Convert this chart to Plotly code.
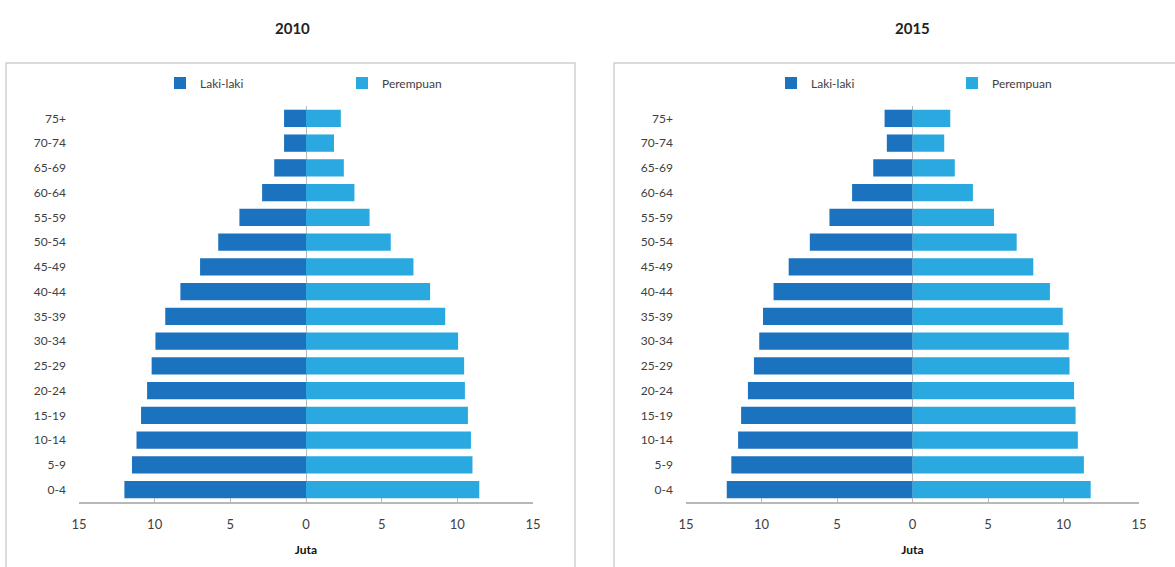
import plotly.graph_objects as go
import numpy as np

# ---- data (millions, "Juta") ----
age_groups = ["0-4", "5-9", "10-14", "15-19", "20-24", "25-29", "30-34", "35-39",
              "40-44", "45-49", "50-54", "55-59", "60-64", "65-69", "70-74", "75+"]

male_2010 = [12.0, 11.5, 11.2, 10.9, 10.5, 10.2, 9.95, 9.3, 8.3, 7.0, 5.8, 4.4, 2.9, 2.1, 1.45, 1.45]
female_2010 = [11.45, 11.0, 10.9, 10.7, 10.5, 10.45, 10.05, 9.2, 8.2, 7.1, 5.6, 4.2, 3.2, 2.5, 1.85, 2.3]

male_2015 = [12.3, 12.0, 11.55, 11.35, 10.9, 10.5, 10.15, 9.9, 9.2, 8.2, 6.8, 5.5, 4.0, 2.6, 1.7, 1.85]
female_2015 = [11.8, 11.35, 10.95, 10.8, 10.7, 10.4, 10.35, 9.95, 9.1, 8.0, 6.9, 5.4, 4.0, 2.8, 2.1, 2.5]

years = ["2010", "2015"]
series_names = ["Laki-laki", "Perempuan"]
tick_values = [-15, -10, -5, 0, 5, 10, 15]
tick_labels = ["15", "10", "5", "0", "5", "10", "15"]
x_title = "Juta"

MALE_COLOR = "#1b72be"
FEMALE_COLOR = "#2aa9e0"
FONT = "Lato"
TXT = "#404040"

W, H = 1175, 567

def px_x(p):
    return p / W

def px_y(p):
    return 1 - p / H

fig = go.Figure()

panels = [
    dict(male=male_2010, female=female_2010, xa="x", ya="y", legends=("legend", "legend2")),
    dict(male=male_2015, female=female_2015, xa="x2", ya="y2", legends=("legend3", "legend4")),
]

for p in panels:
    fig.add_trace(go.Bar(
        y=age_groups, x=-np.array(p["male"]), orientation="h",
        name=series_names[0], marker=dict(color=MALE_COLOR, line=dict(width=0)),
        xaxis=p["xa"], yaxis=p["ya"], legend=p["legends"][0],
        customdata=p["male"], hovertemplate="%{y}: %{customdata}<extra></extra>",
    ))
    fig.add_trace(go.Bar(
        y=age_groups, x=p["female"], orientation="h",
        name=series_names[1], marker=dict(color=FEMALE_COLOR, line=dict(width=0)),
        xaxis=p["xa"], yaxis=p["ya"], legend=p["legends"][1],
        hovertemplate="%{y}: %{x}<extra></extra>",
    ))

x_domains = [[px_x(79), px_x(533)], [px_x(686), px_x(1139)]]
y_domain = [px_y(502), px_y(106)]

xaxis_common = dict(
    range=[-15, 15], tickmode="array", tickvals=tick_values, ticktext=tick_labels,
    showgrid=False, zeroline=True, zerolinecolor="#b8b8b8", zerolinewidth=1,
    showline=True, linecolor="#b8b8b8", linewidth=1.5,
    ticks="inside", ticklen=4, tickcolor="#b8b8b8",
    tickfont=dict(family=FONT, size=13, color=TXT), ticklabelstandoff=10,
    title=dict(text=x_title, font=dict(family=FONT, size=12, color="#111111", weight="bold"), standoff=14),
    fixedrange=True, automargin=False,
)
yaxis_common = dict(
    type="category", categoryorder="array", categoryarray=age_groups,
    showgrid=False, zeroline=False, showline=False, ticks="",
    tickfont=dict(family=FONT, size=12, color=TXT),
    ticklabelstandoff=12, fixedrange=True, automargin=False,
)

def legend_at(xpix):
    return dict(orientation="h", x=px_x(xpix), y=px_y(83), xanchor="left", yanchor="middle",
                font=dict(family=FONT, size=12, color=TXT), bgcolor="rgba(0,0,0,0)",
                itemwidth=30, borderwidth=0)

fig.update_layout(
    width=W, height=H, autosize=False,
    margin=dict(l=0, r=0, t=0, b=0, autoexpand=False),
    paper_bgcolor="white", plot_bgcolor="white",
    barmode="relative", bargap=0.3,
    xaxis=dict(domain=x_domains[0], anchor="y", **xaxis_common),
    yaxis=dict(domain=y_domain, anchor="x", **yaxis_common),
    xaxis2=dict(domain=x_domains[1], anchor="y2", **xaxis_common),
    yaxis2=dict(domain=y_domain, anchor="x2", **yaxis_common),
    legend=legend_at(160),
    legend2=legend_at(342),
    legend3=legend_at(771),
    legend4=legend_at(952),
    showlegend=True,
)

# panel borders
for x0, x1 in [(6, 575), (614, 1185)]:
    fig.add_shape(type="rect", xref="paper", yref="paper",
                  x0=px_x(x0), x1=px_x(x1), y0=px_y(580), y1=px_y(63),
                  line=dict(color="#d0d0d0", width=1.5), fillcolor="rgba(0,0,0,0)", layer="below")

# panel titles
for yr, cx in zip(years, [292, 912]):
    fig.add_annotation(text=yr, xref="paper", yref="paper", x=px_x(cx), y=px_y(28),
                       showarrow=False, xanchor="center", yanchor="middle",
                       font=dict(family=FONT, size=15, color="#222222", weight="bold"))

fig.write_html(
    "out.html",
    config={"responsive": False, "displayModeBar": False},
    post_script="document.body.style.margin='0';document.body.style.overflow='hidden';",
)
